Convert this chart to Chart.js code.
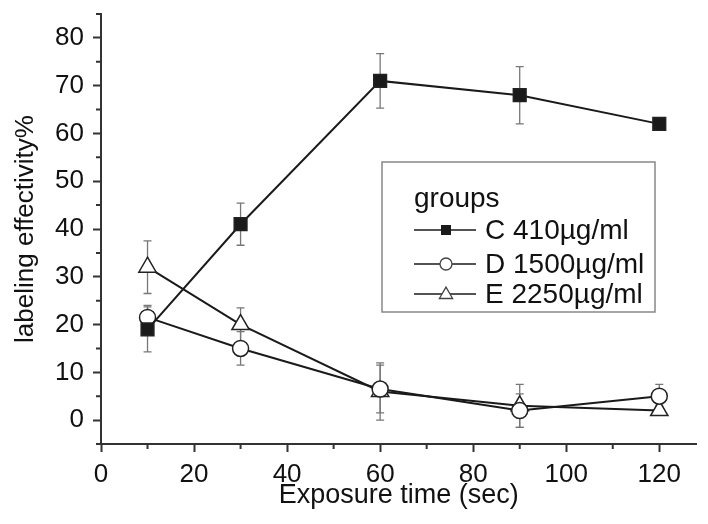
<!DOCTYPE html>
<html>
<head>
<meta charset="utf-8">
<script src="https://cdn.jsdelivr.net/npm/chart.js@4/dist/chart.umd.min.js"></script>
<style>
  html, body { margin: 0; padding: 0; background: #fff; }
  #wrap { width: 708px; height: 524px; position: relative; }
</style>
</head>
<body>
<div id="wrap"><canvas id="chart"></canvas></div>
<script>
// exposure times (sec)
const times = [10, 30, 60, 90, 120];

// labeling effectivity % per group, with error bar half-widths
const groupC = [19, 41, 71, 68, 62];
const errC = [4.7, 4.4, 5.7, 6, 0];
const groupD = [21.5, 15, 6.5, 2, 5];
const errD = [2.5, 3.5, 5, 3.5, 2.5];
const groupE = [32, 20, 6, 3, 2];
const errE = [5.5, 3.5, 6, 4.5, 1];

const labelC = 'C 410\u00b5g/ml';
const labelD = 'D 1500\u00b5g/ml';
const labelE = 'E 2250\u00b5g/ml';

const xMajor = [0, 20, 40, 60, 80, 100, 120];
const xMinor = [10, 30, 50, 70, 90, 110];
const yMajor = [0, 10, 20, 30, 40, 50, 60, 70, 80];
const yMinor = [-5, 5, 15, 25, 35, 45, 55, 65, 75, 85];

const FONT = '"Liberation Sans", Arial, Helvetica, sans-serif';
const INK = '#1a1a1a';
const AXIS = '#333';

function toPoints(values) {
    return values.map((v, i) => ({ x: times[i], y: v }));
}

// error bars, drawn under the markers
const errorBars = {
    id: 'errorBars',
    beforeDatasetsDraw(chart) {
        const ctx = chart.ctx;
        const xs = chart.scales.x, ys = chart.scales.y;
        ctx.save();
        ctx.strokeStyle = '#777';
        ctx.lineWidth = 1.3;
        chart.data.datasets.forEach(ds => {
            ds.data.forEach((p, i) => {
                const e = ds.errors[i];
                if (!e) return;
                const px = xs.getPixelForValue(p.x);
                const top = ys.getPixelForValue(p.y + e);
                const bot = ys.getPixelForValue(p.y - e);
                ctx.beginPath();
                ctx.moveTo(px, top); ctx.lineTo(px, bot);
                ctx.moveTo(px - 4, top); ctx.lineTo(px + 4, top);
                ctx.moveTo(px - 4, bot); ctx.lineTo(px + 4, bot);
                ctx.stroke();
            });
        });
        ctx.restore();
    }
};

// short minor ticks on both axes
const minorTicks = {
    id: 'minorTicks',
    afterDraw(chart) {
        const ctx = chart.ctx;
        const xs = chart.scales.x, ys = chart.scales.y;
        ctx.save();
        ctx.strokeStyle = AXIS;
        ctx.lineWidth = 2;
        ctx.beginPath();
        xMinor.forEach(v => {
            const px = xs.getPixelForValue(v);
            ctx.moveTo(px, ys.bottom); ctx.lineTo(px, ys.bottom + 5);
        });
        yMinor.forEach(v => {
            const py = ys.getPixelForValue(v);
            ctx.moveTo(xs.left, py); ctx.lineTo(xs.left - 5, py);
        });
        ctx.stroke();
        ctx.restore();
    }
};

// boxed legend inside the plot, with line-marker-line symbols
function drawMarker(ctx, style, x, y, size) {
    ctx.beginPath();
    if (style === 'rect') {
        ctx.fillStyle = INK;
        ctx.fillRect(x - size, y - size, size * 2, size * 2);
        return;
    }
    if (style === 'circle') {
        ctx.arc(x, y, size, 0, Math.PI * 2);
    } else {
        ctx.moveTo(x, y - size * 1.15);
        ctx.lineTo(x + size * 1.1, y + size * 0.75);
        ctx.lineTo(x - size * 1.1, y + size * 0.75);
        ctx.closePath();
    }
    ctx.fillStyle = '#fff';
    ctx.fill();
    ctx.strokeStyle = '#444';
    ctx.lineWidth = 1.3;
    ctx.stroke();
}

const boxLegend = {
    id: 'boxLegend',
    afterDraw(chart) {
        const ctx = chart.ctx;
        ctx.save();
        ctx.strokeStyle = '#888';
        ctx.lineWidth = 1.5;
        ctx.strokeRect(382, 162, 273, 150);
        ctx.fillStyle = '#111';
        ctx.font = '28px ' + FONT;
        ctx.textBaseline = 'middle';
        ctx.fillText('groups', 414, 199);
        const rows = [230, 264, 294];
        chart.data.datasets.forEach((ds, i) => {
            const y = rows[i];
            ctx.strokeStyle = INK;
            ctx.lineWidth = 1.5;
            ctx.beginPath();
            ctx.moveTo(414, y); ctx.lineTo(476, y);
            ctx.stroke();
            drawMarker(ctx, ds.pointStyle, 446, y, ds.pointStyle === 'rect' ? 5 : 6);
            ctx.fillStyle = '#111';
            ctx.fillText(ds.label, 485, y + 1);
        });
        ctx.restore();
    }
};

const lineStyle = {
    borderColor: INK,
    borderWidth: 2,
    pointBorderColor: '#222',
    pointBorderWidth: 1.5,
    tension: 0
};

new Chart(document.getElementById('chart'), {
    type: 'line',
    data: {
        datasets: [
            Object.assign({ label: labelC, data: toPoints(groupC), errors: errC,
                pointStyle: 'rect', pointRadius: 9, pointBackgroundColor: INK }, lineStyle),
            Object.assign({ label: labelD, data: toPoints(groupD), errors: errD,
                pointStyle: 'circle', pointRadius: 8, pointBackgroundColor: '#fff' }, lineStyle),
            Object.assign({ label: labelE, data: toPoints(groupE), errors: errE,
                pointStyle: 'triangle', pointRadius: 10, pointBackgroundColor: '#fff' }, lineStyle)
        ]
    },
    options: {
        responsive: true,
        maintainAspectRatio: false,
        animation: false,
        layout: { padding: { left: 0, right: 5, top: 14, bottom: 0 } },
        plugins: {
            legend: { display: false },
            tooltip: { enabled: false }
        },
        scales: {
            x: {
                type: 'linear',
                min: 0,
                max: 128,
                afterBuildTicks: scale => { scale.ticks = xMajor.map(v => ({ value: v })); },
                afterFit: scale => { scale.height = 80; scale.paddingLeft = 0; scale.paddingRight = 0; },
                grid: { drawOnChartArea: false, tickLength: 8, tickColor: AXIS, tickWidth: 2 },
                border: { color: AXIS, width: 2 },
                ticks: { color: '#111', font: { family: FONT, size: 26 }, padding: 7, maxRotation: 0 },
                title: { display: true, text: 'Exposure time (sec)', color: '#111',
                    font: { family: FONT, size: 27 }, padding: { top: 0, bottom: 12 } }
            },
            y: {
                min: -5,
                max: 85,
                afterBuildTicks: scale => { scale.ticks = yMajor.map(v => ({ value: v })); },
                afterFit: scale => { scale.width = 101; scale.paddingTop = 0; scale.paddingBottom = 0; },
                grid: { drawOnChartArea: false, tickLength: 8, tickColor: AXIS, tickWidth: 2 },
                border: { color: AXIS, width: 2 },
                ticks: { color: '#111', font: { family: FONT, size: 26 }, padding: 9 },
                title: { display: true, text: 'labeling effectivity%', color: '#111',
                    font: { family: FONT, size: 26 }, padding: { top: 10, bottom: 0 } }
            }
        }
    },
    plugins: [errorBars, minorTicks, boxLegend]
});
</script>
</body>
</html>
